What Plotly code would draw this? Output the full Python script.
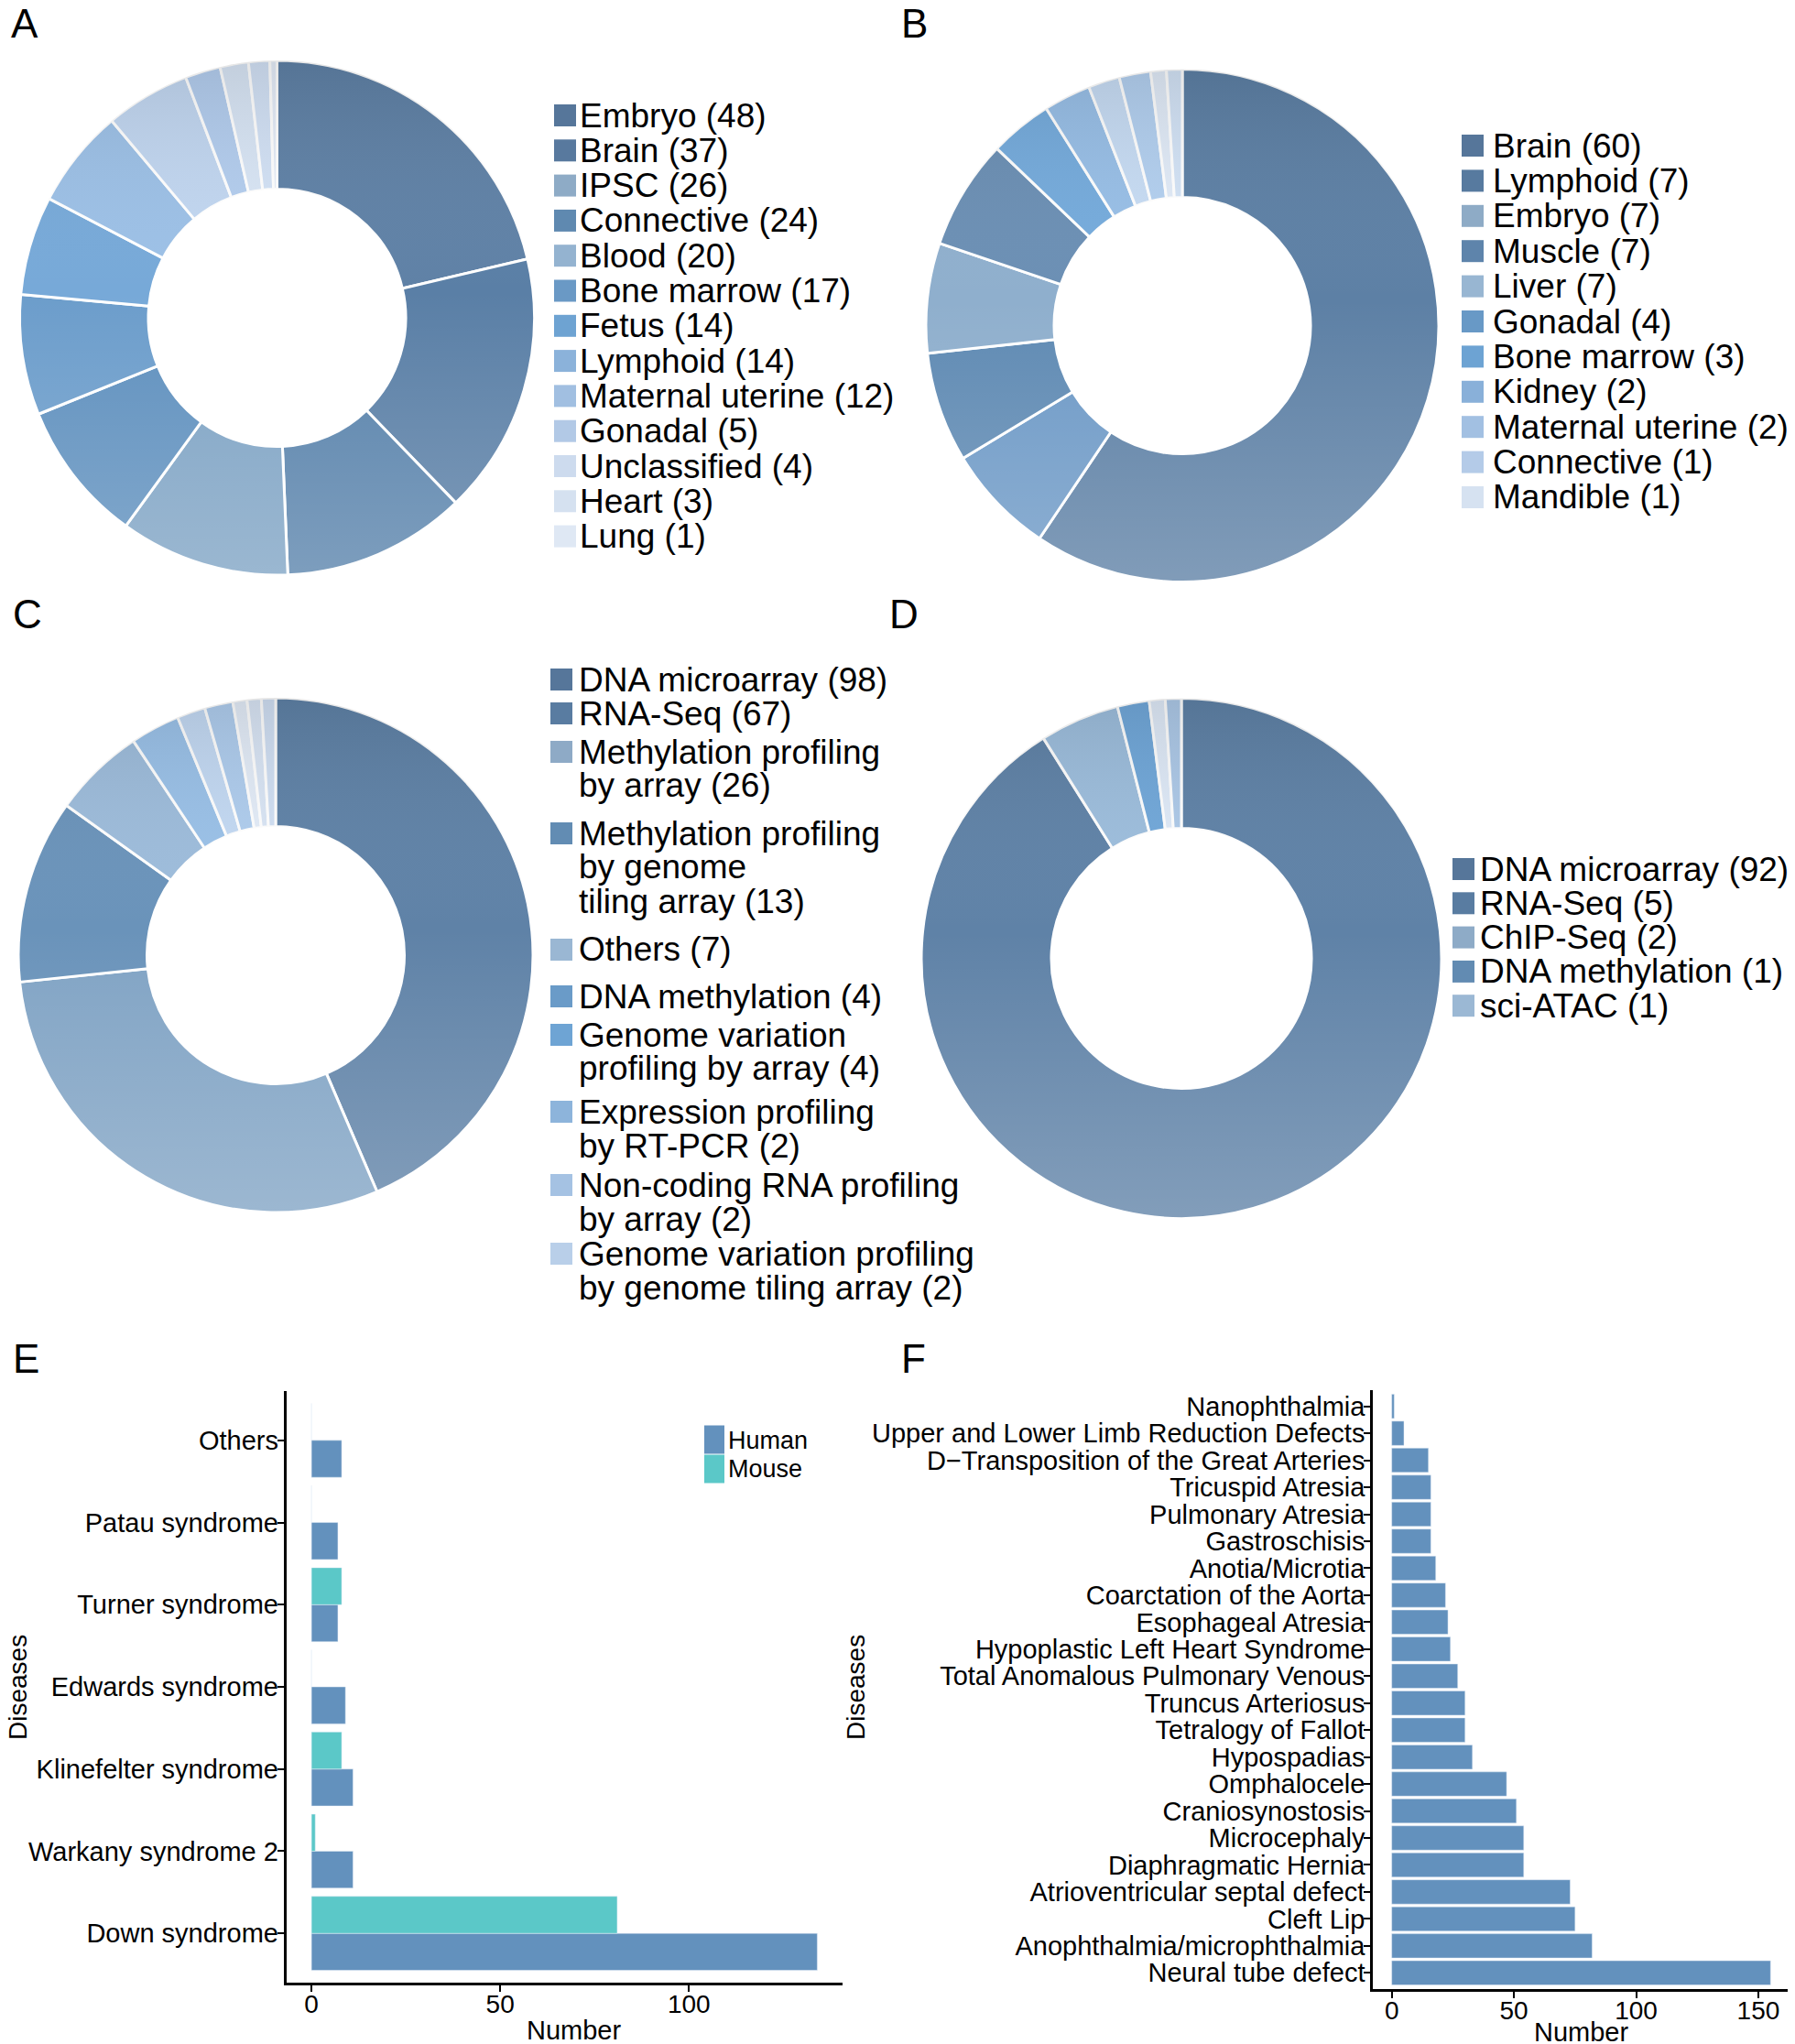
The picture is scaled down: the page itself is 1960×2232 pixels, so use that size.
import base64
import plotly.graph_objects as go

W, H = 1960, 2232
OFF = 8  # page body margin of the html page
FONT = "Liberation Sans, Arial, sans-serif"

# ---------------- Data ----------------
# Panel A
a_labels = ["Embryo", "Brain", "IPSC", "Connective", "Blood", "Bone marrow", "Fetus",
            "Lymphoid", "Maternal uterine", "Gonadal", "Unclassified", "Heart", "Lung"]
a_values = [48, 37, 26, 24, 20, 17, 14, 14, 12, 5, 4, 3, 1]
# Panel B
b_labels = ["Brain", "Lymphoid", "Embryo", "Muscle", "Liver", "Gonadal", "Bone marrow",
            "Kidney", "Maternal uterine", "Connective", "Mandible"]
b_values = [60, 7, 7, 7, 7, 4, 3, 2, 2, 1, 1]
# Panel C
c_labels = ["DNA microarray", "RNA-Seq", "Methylation profiling\nby array",
            "Methylation profiling\nby genome\ntiling array", "Others", "DNA methylation",
            "Genome variation\nprofiling by array", "Expression profiling\nby RT-PCR",
            "Non-coding RNA profiling\nby array", "Genome variation profiling\nby genome tiling array"]
c_values = [98, 67, 26, 13, 7, 4, 4, 2, 2, 2]
# Panel D
d_labels = ["DNA microarray", "RNA-Seq", "ChIP-Seq", "DNA methylation", "sci-ATAC"]
d_values = [92, 5, 2, 1, 1]
# Panel E
e_diseases = ["Others", "Patau syndrome", "Turner syndrome", "Edwards syndrome",
              "Klinefelter syndrome", "Warkany syndrome 2", "Down syndrome"]
e_human = [8, 7, 7, 9, 11, 11, 134]
e_mouse = [0, 0, 8, 0, 8, 1, 81]
e_ticks = [0, 50, 100]
# Panel F
f_diseases = ["Nanophthalmia", "Upper and Lower Limb Reduction Defects",
              "D\u2212Transposition of the Great Arteries", "Tricuspid Atresia",
              "Pulmonary Atresia", "Gastroschisis", "Anotia/Microtia", "Coarctation of the Aorta",
              "Esophageal Atresia", "Hypoplastic Left Heart Syndrome",
              "Total Anomalous Pulmonary Venous", "Truncus Arteriosus", "Tetralogy of Fallot",
              "Hypospadias", "Omphalocele", "Craniosynostosis", "Microcephaly",
              "Diaphragmatic Hernia", "Atrioventricular septal defect", "Cleft Lip",
              "Anophthalmia/microphthalmia", "Neural tube defect"]
f_values = [1, 5, 15, 16, 16, 16, 18, 22, 23, 24, 27, 30, 30, 33, 47, 51, 54, 54, 73, 75, 82, 155]
f_ticks = [0, 50, 100, 150]

# ---------------- Styles ----------------
a_pie_colors = ["#5f81a6", "#5a7fa6", "#5882ab", "#7ea3c4", "#5f90be", "#6c9dcb", "#77a9d8",
                "#9cc0e6", "#c1d6f0", "#b3cdee", "#d8e5f5", "#d2e1f5", "#e4ecf8"]
a_leg_colors = ["#56769a", "#58799e", "#8eabc6", "#5f89b0", "#94b3d0", "#6a99c5", "#6ea3d2",
                "#8bb2da", "#a1bfe1", "#b2c9e6", "#cddbee", "#d5e1f0", "#dfe8f4"]
b_pie_colors = ["#5d80a5", "#6d99c6", "#5f8ab3", "#8fafcd", "#6b8fb4", "#75abdc", "#98bfe7",
                "#c7dcf4", "#b3d0f0", "#e1ebf8", "#d3e3f6"]
b_leg_colors = ["#56769a", "#577a9f", "#8eabc6", "#5e84ab", "#98b6d2", "#6899c6", "#6da3d3",
                "#89b0d9", "#a2c0e2", "#b4cbe8", "#d6e2f1"]
c_pie_colors = ["#5f82a7", "#80a3c4", "#6a93ba", "#9dbcdb", "#9ac1e8", "#c3d9f3", "#afcdee",
                "#e3ecf8", "#d9e5f5", "#d0dff3"]
c_leg_colors = ["#56769a", "#597ca1", "#8eaac6", "#628cb3", "#9ab7d3", "#6a9bc8", "#6ea4d4",
                "#8db4db", "#a5c2e3", "#b9cfe9"]
d_pie_colors = ["#5f82a7", "#9dbedd", "#71a8da", "#dfeaf8", "#adc9e8"]
d_leg_colors = ["#56769a", "#597ca1", "#8eabc7", "#628bb2", "#9bb8d4"]
HUMAN = "#6391bd"
MOUSE = "#5bc8c8"


def px_x(x):
    return (x - OFF) / W


def px_y(y):
    return 1 - (y - OFF) / H


fig = go.Figure()
images = []

RING_SVG = (
    '<svg xmlns="http://www.w3.org/2000/svg" viewBox="0 0 200 200" width="200" height="200">'
    '<defs><linearGradient id="g" x1="0" y1="0" x2="0" y2="1">'
    '<stop offset="0" stop-color="#000000" stop-opacity="0.10"/>'
    '<stop offset="0.45" stop-color="#ffffff" stop-opacity="0"/>'
    '<stop offset="1" stop-color="#ffffff" stop-opacity="0.22"/>'
    '</linearGradient></defs>'
    '<path fill-rule="evenodd" fill="url(#g)" '
    'd="M0,100 a100,100 0 1,0 200,0 a100,100 0 1,0 -200,0 Z '
    'M50,100 a50,50 0 1,0 100,0 a50,50 0 1,0 -100,0 Z"/></svg>'
)
RING_SRC = "data:image/svg+xml;base64," + base64.b64encode(RING_SVG.encode()).decode()


def add_pie(labels, values, colors, cx, cy, r):
    fig.add_trace(go.Pie(
        labels=[l.replace("\n", " ") for l in labels], values=values,
        sort=False, direction="clockwise", rotation=0, hole=0.5,
        textinfo="none", showlegend=False,
        marker=dict(colors=colors, line=dict(color="white", width=3)),
        domain=dict(x=[px_x(cx - r), px_x(cx + r)], y=[px_y(cy + r), px_y(cy - r)]),
    ))
    # soft vertical shading over the ring
    images.append(dict(source=RING_SRC, xref="paper", yref="paper",
                       x=px_x(cx - r), y=px_y(cy - r), sizex=2 * r / W, sizey=2 * r / H,
                       xanchor="left", yanchor="top", sizing="stretch", layer="above"))


add_pie(a_labels, a_values, a_pie_colors, 302.5, 347, 281)
add_pie(b_labels, b_values, b_pie_colors, 1291, 355.5, 280)
add_pie(c_labels, c_values, c_pie_colors, 301, 1043, 281)
add_pie(d_labels, d_values, d_pie_colors, 1290, 1046.5, 284)

shapes = []
annotations = []


def text(x, y, s, size, xanchor="left", yanchor="middle", angle=0):
    annotations.append(dict(
        x=px_x(x), y=px_y(y), xref="paper", yref="paper", text=s, showarrow=False,
        xanchor=xanchor, yanchor=yanchor, textangle=angle,
        font=dict(family=FONT, size=size, color="black"), borderpad=0))


def square(x0, yc, size, color, h=None):
    h = size if h is None else h
    shapes.append(dict(type="rect", xref="paper", yref="paper",
                       x0=px_x(x0), x1=px_x(x0 + size),
                       y0=px_y(yc + h / 2), y1=px_y(yc - h / 2),
                       fillcolor=color, line=dict(width=0), layer="above"))


LEG = 37
# Legend A
for i, (lab, val) in enumerate(zip(a_labels, a_values)):
    yc = 126 + i * 38.3
    square(605, yc, 24, a_leg_colors[i])
    text(632, yc, f"{lab} ({val})", LEG)
# Legend B
for i, (lab, val) in enumerate(zip(b_labels, b_values)):
    yc = 159 + i * 38.4
    square(1596, yc, 24, b_leg_colors[i])
    text(1629, yc, f"{lab} ({val})", LEG)
# Legend C (multi-line entries)
c_item_y = [742, 779, 821, 910, 1037, 1088, 1130, 1214, 1294, 1369]
for i, (lab, val) in enumerate(zip(c_labels, c_values)):
    lines = lab.split("\n")
    lines[-1] = f"{lines[-1]} ({val})"
    square(601, c_item_y[i], 24, c_leg_colors[i])
    for j, ln in enumerate(lines):
        text(631, c_item_y[i] + j * 37, ln, LEG)
# Legend D
for i, (lab, val) in enumerate(zip(d_labels, d_values)):
    yc = 949 + i * 37.3
    square(1586, yc, 24, d_leg_colors[i])
    text(1615, yc, f"{lab} ({val})", LEG)

# ---------------- Bars ----------------
fig.add_trace(go.Bar(y=e_diseases, x=e_human, orientation="h", marker=dict(color=HUMAN),
                     name="Human", showlegend=False, xaxis="x", yaxis="y"))
fig.add_trace(go.Bar(y=e_diseases, x=e_mouse, orientation="h", marker=dict(color=MOUSE),
                     name="Mouse", showlegend=False, xaxis="x", yaxis="y"))
fig.add_trace(go.Bar(y=f_diseases, x=f_values, orientation="h", marker=dict(color=HUMAN),
                     showlegend=False, xaxis="x2", yaxis="y2"))

# legend E
square(769, 1572, 22, HUMAN, h=31)
square(769, 1604, 22, MOUSE, h=31)
text(794, 1573, "Human", 27)
text(794, 1604, "Mouse", 27)

# axis titles
text(626, 2217, "Number", 29, xanchor="center")
text(1726, 2219, "Number", 29, xanchor="center")
text(19, 1843, "Diseases", 28, xanchor="center", angle=-90)
text(934, 1843, "Diseases", 28, xanchor="center", angle=-90)

# panel letters
for letter, x, y in [("A", 11, 26), ("B", 983, 26), ("C", 13, 670), ("D", 970, 670),
                     ("E", 13, 1483), ("F", 983, 1483)]:
    text(x, y, letter, 44)

axis_common = dict(showline=True, linecolor="black", linewidth=2.5, ticks="outside",
                   ticklen=7, tickwidth=2, tickcolor="black", showgrid=False, zeroline=False,
                   tickfont=dict(family=FONT, size=28, color="black"), fixedrange=True)
x_common = dict(axis_common, ticklabelstandoff=-10)
y_common = dict(axis_common, ticklabelstandoff=-7, tickmode="linear", tick0=0, dtick=1,
                tickfont=dict(family=FONT, size=29, color="black"))

fig.update_layout(
    width=W, height=H, margin=dict(l=0, r=0, t=0, b=0),
    paper_bgcolor="white", plot_bgcolor="white",
    barmode="group", bargap=0.1, bargroupgap=0,
    shapes=shapes, annotations=annotations, images=images, showlegend=False,
    xaxis=dict(domain=[px_x(312.5), px_x(920)], range=[-6.7, 140.7], tickvals=e_ticks,
               anchor="y", **x_common),
    yaxis=dict(domain=[px_y(2165), px_y(1519)], range=[-0.6, 6.6], type="category",
               categoryorder="array", categoryarray=e_diseases[::-1], anchor="x",
               **y_common),
    xaxis2=dict(domain=[px_x(1499), px_x(1954)], range=[-7.75, 162.75], tickvals=f_ticks,
                anchor="y2", **x_common),
    yaxis2=dict(domain=[px_y(2172), px_y(1518)], range=[-0.6, 21.6], type="category",
                categoryorder="array", categoryarray=f_diseases[::-1], anchor="x2",
                **y_common),
)

fig.write_html("out.html")
